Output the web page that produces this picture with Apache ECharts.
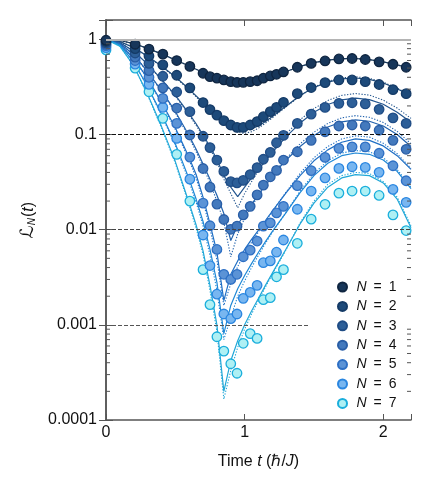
<!DOCTYPE html>
<html><head><meta charset="utf-8">
<script src="https://cdn.jsdelivr.net/npm/echarts@6/dist/echarts.min.js"></script>
<style>html,body{margin:0;padding:0;background:#fff}#c{width:431px;height:493px}</style>
</head><body><div id="c"></div>
<script>
// ---------- data ----------
const seriesNames = ['N = 1','N = 2','N = 3','N = 4','N = 5','N = 6','N = 7'];
// measurement times
const tData = [0, 0.21, 0.31, 0.41, 0.51, 0.605, 0.70, 0.75, 0.80, 0.85, 0.90, 0.945, 0.99, 1.04, 1.09, 1.135, 1.185, 1.23, 1.28, 1.38, 1.48, 1.58, 1.68, 1.775, 1.87, 1.97, 2.07, 2.165];
const dataN1 = [0.98, 0.89, 0.79, 0.70, 0.60, 0.52, 0.441, 0.406, 0.391, 0.375, 0.360, 0.354, 0.354, 0.360, 0.368, 0.391, 0.413, 0.430, 0.455, 0.51, 0.56, 0.594, 0.623, 0.63, 0.615, 0.58, 0.548, 0.51];
const dataN2 = [0.95, 0.80, 0.67, 0.54, 0.42, 0.31, 0.217, 0.183, 0.160, 0.140, 0.126, 0.119, 0.119, 0.126, 0.137, 0.154, 0.174, 0.193, 0.218, 0.269, 0.312, 0.351, 0.375, 0.375, 0.36, 0.336, 0.297, 0.269];
const dataN3 = [0.92, 0.72, 0.56, 0.41, 0.28, 0.174, 0.096, 0.073, 0.054, 0.041, 0.032, 0.031, 0.033, 0.038, 0.045, 0.055, 0.065, 0.082, 0.098, 0.131, 0.164, 0.193, 0.213, 0.216, 0.210, 0.184, 0.150, 0.131];
const dataN4 = [0.89, 0.65, 0.47, 0.31, 0.19, 0.099, 0.044, 0.028, 0.0186, 0.0128, 0.0101, 0.0109, 0.0143, 0.0176, 0.0232, 0.0294, 0.036, 0.042, 0.054, 0.066, 0.087, 0.107, 0.123, 0.126, 0.123, 0.111, 0.087, 0.07];
const dataN5 = [0.86, 0.60, 0.40, 0.24, 0.131, 0.058, 0.019, 0.011, 0.0062, 0.0034, 0.0030, 0.0034, 0.0052, 0.0061, 0.0076, 0.0109, 0.0118, 0.0150, 0.0176, 0.029, 0.0418, 0.0575, 0.0716, 0.0743, 0.0743, 0.0636, 0.047, 0.0327];
const dataN6 = [0.82, 0.55, 0.337, 0.193, 0.091, 0.034, 0.0088, 0.0042, 0.0021, 0.0013, 0.00116, 0.0013, 0.0019, 0.0022, 0.0026, 0.0045, 0.0047, 0.0058, 0.0078, 0.0164, 0.0255, 0.035, 0.0441, 0.0459, 0.0452, 0.0401, 0.0265, 0.0194];
const dataN7 = [0.775, 0.50, 0.282, 0.148, 0.062, 0.020, 0.0038, 0.00163, 0.00075, 0.00053, 0.00039, 0.00031, 0.00064, 0.00081, 0.00072, 0.00184, 0.00193, 0.0032, 0.0038, 0.0072, 0.0129, 0.0185, 0.0242, 0.0255, 0.0255, 0.0229, 0.0143, 0.0098];

// theory curve times
const tTheory = [0, 0.1, 0.2, 0.3, 0.4, 0.5, 0.6, 0.65, 0.7, 0.75, 0.8, 0.85, 0.9, 0.95, 1.0, 1.05, 1.1, 1.15, 1.2, 1.25, 1.3, 1.4, 1.5, 1.6, 1.7, 1.8, 1.9, 2.0, 2.1, 2.2];
const solidN1 = [1, 0.975, 0.905, 0.805, 0.705, 0.61, 0.525, 0.485, 0.45, 0.418, 0.392, 0.374, 0.362, 0.355, 0.354, 0.36, 0.371, 0.387, 0.407, 0.43, 0.46, 0.52, 0.57, 0.605, 0.627, 0.63, 0.613, 0.58, 0.54, 0.495];
const solidN2 = [1, 0.95, 0.82, 0.665, 0.525, 0.405, 0.30, 0.255, 0.217, 0.186, 0.161, 0.142, 0.126, 0.116, 0.112, 0.115, 0.123, 0.137, 0.155, 0.176, 0.20, 0.258, 0.312, 0.356, 0.385, 0.393, 0.38, 0.348, 0.303, 0.256];
const solidN3 = [1, 0.93, 0.75, 0.55, 0.38, 0.26, 0.165, 0.13, 0.099, 0.075, 0.055, 0.037, 0.028, 0.0223, 0.028, 0.035, 0.043, 0.053, 0.065, 0.079, 0.095, 0.132, 0.172, 0.207, 0.232, 0.242, 0.233, 0.208, 0.172, 0.135];
const solidN4 = [1, 0.91, 0.69, 0.46, 0.29, 0.175, 0.097, 0.07, 0.049, 0.034, 0.023, 0.0148, 0.0077, 0.0112, 0.0148, 0.0185, 0.0235, 0.0295, 0.0365, 0.045, 0.054, 0.075, 0.098, 0.12, 0.136, 0.143, 0.138, 0.123, 0.1, 0.075];
const solidN5 = [1, 0.89, 0.63, 0.39, 0.22, 0.118, 0.057, 0.038, 0.022, 0.0115, 0.0058, 0.0018, 0.0034, 0.0047, 0.0062, 0.0079, 0.0099, 0.0125, 0.0157, 0.0196, 0.0245, 0.037, 0.053, 0.069, 0.083, 0.09, 0.087, 0.076, 0.06, 0.043];
const solidN6 = [1, 0.87, 0.58, 0.32, 0.165, 0.08, 0.034, 0.021, 0.0122, 0.0062, 0.0028, 0.00081, 0.0016, 0.0024, 0.0033, 0.0044, 0.0058, 0.0075, 0.0096, 0.0121, 0.0152, 0.0245, 0.037, 0.05, 0.06, 0.064, 0.062, 0.054, 0.041, 0.027];
const solidN7 = [1, 0.85, 0.53, 0.265, 0.122, 0.052, 0.019, 0.0112, 0.006, 0.0026, 0.001, 0.0002, 0.00042, 0.00068, 0.001, 0.0014, 0.0019, 0.0026, 0.0035, 0.0047, 0.0063, 0.0115, 0.019, 0.028, 0.035, 0.038, 0.037, 0.031, 0.021, 0.0105];
const dottedN1 = [1, 0.975, 0.905, 0.805, 0.705, 0.61, 0.525, 0.485, 0.45, 0.418, 0.392, 0.374, 0.362, 0.355, 0.354, 0.36, 0.371, 0.387, 0.407, 0.43, 0.46, 0.52, 0.57, 0.605, 0.627, 0.63, 0.613, 0.58, 0.54, 0.495];
const dottedN2 = [1, 0.95, 0.82, 0.665, 0.52, 0.40, 0.295, 0.25, 0.21, 0.178, 0.152, 0.132, 0.116, 0.106, 0.103, 0.107, 0.117, 0.132, 0.15, 0.172, 0.196, 0.255, 0.315, 0.363, 0.395, 0.405, 0.39, 0.355, 0.307, 0.258];
const dottedN3 = [1, 0.93, 0.75, 0.55, 0.375, 0.255, 0.16, 0.125, 0.095, 0.071, 0.052, 0.034, 0.024, 0.017, 0.024, 0.032, 0.042, 0.054, 0.068, 0.084, 0.102, 0.143, 0.188, 0.228, 0.258, 0.27, 0.26, 0.23, 0.19, 0.148];
const dottedN4 = [1, 0.91, 0.69, 0.455, 0.285, 0.17, 0.093, 0.066, 0.046, 0.031, 0.02, 0.012, 0.0052, 0.009, 0.0132, 0.0175, 0.0228, 0.029, 0.037, 0.046, 0.056, 0.08, 0.106, 0.131, 0.15, 0.158, 0.152, 0.134, 0.108, 0.08];
const dottedN5 = [1, 0.89, 0.63, 0.385, 0.215, 0.113, 0.054, 0.035, 0.02, 0.0103, 0.0048, 0.0016, 0.0027, 0.0041, 0.0056, 0.0074, 0.0095, 0.0122, 0.0156, 0.0198, 0.025, 0.039, 0.057, 0.075, 0.09, 0.097, 0.094, 0.081, 0.063, 0.044];
const dottedN6 = [1, 0.87, 0.58, 0.315, 0.16, 0.077, 0.032, 0.0195, 0.011, 0.0054, 0.0023, 0.0007, 0.0012, 0.002, 0.0029, 0.004, 0.0054, 0.0072, 0.0094, 0.012, 0.0153, 0.0255, 0.039, 0.053, 0.064, 0.068, 0.066, 0.057, 0.043, 0.028];
const dottedN7 = [1, 0.85, 0.53, 0.26, 0.118, 0.05, 0.018, 0.0104, 0.0055, 0.0023, 0.00085, 0.000166, 0.00033, 0.00058, 0.0009, 0.0013, 0.0018, 0.0025, 0.0034, 0.0046, 0.0062, 0.0118, 0.02, 0.03, 0.037, 0.04, 0.039, 0.032, 0.022, 0.011];

// axes
const xTickLabels = ['0', '1', '2'];
const yTickValues = [0.0001, 0.001, 0.01, 0.1, 1];
const yTickLabels = ['0.0001', '0.001', '0.01', '0.1', '1'];
const yMinorTicks = [0.0002,0.0003,0.0004,0.0005,0.0006,0.0007,0.0008,0.0009,
  0.002,0.003,0.004,0.005,0.006,0.007,0.008,0.009,
  0.02,0.03,0.04,0.05,0.06,0.07,0.08,0.09,
  0.2,0.3,0.4,0.5,0.6,0.7,0.8,0.9];
// reference lines: value and end time
const refValues = [1, 0.1, 0.01, 0.001];
const refEnds = [2.2, 2.2, 2.2, 1.47];

// ---------- styles ----------
const X_MIN = 0, X_MAX = 2.2, Y_MIN = 0.0001, Y_MAX = 1.6;
const FONT = "'Liberation Sans', Arial, Helvetica, sans-serif";
const fillColors = ['#17365a', '#1d4a7a', '#2d5f98', '#4379bd', '#5b93d6', '#78b6f0', '#aef0f4'];
const borderColors = ['#0f2540', '#143a66', '#1f4c85', '#2a5ea6', '#2d6fc4', '#2a86e0', '#1aaedc'];
const lineColors = ['#1a3a5c', '#1d4a7a', '#24568f', '#2262ad', '#1f6fc5', '#1f88d6', '#22a8d8'];
const refStyles = [
  {color: '#b4b4b4', width: 2, type: 'solid'},
  {color: '#111', width: 1, type: [4, 2]},
  {color: '#444', width: 1, type: [4, 2]},
  {color: '#555', width: 1, type: [4, 2]}
];

const dataSets = [dataN1, dataN2, dataN3, dataN4, dataN5, dataN6, dataN7];
const solids = [solidN1, solidN2, solidN3, solidN4, solidN5, solidN6, solidN7];
const dotteds = [dottedN1, dottedN2, dottedN3, dottedN4, dottedN5, dottedN6, dottedN7];

const series = [];
// reference lines holder
series.push({
  type: 'line', data: [], silent: true, z: 1,
  markLine: {
    silent: true, symbol: ['none', 'none'], label: {show: false}, animation: false,
    data: refValues.map((v, i) => [
      {coord: [X_MIN, v], lineStyle: refStyles[i]},
      {coord: [refEnds[i], v]}
    ])
  }
});
// minor ticks on left and right y axes
series.push({
  type: 'custom', silent: true, z: 5, clip: false,
  data: yMinorTicks.map(v => [X_MIN, v]),
  renderItem: function (params, api) {
    const v = api.value(1);
    const l = api.coord([X_MIN, v]);
    const r = api.coord([X_MAX, v]);
    return {type: 'group', children: [
      {type: 'line', shape: {x1: l[0], y1: l[1], x2: l[0] + 4, y2: l[1]}, style: {stroke: '#555', lineWidth: 1}},
      {type: 'line', shape: {x1: r[0], y1: r[1], x2: r[0] - 4, y2: r[1]}, style: {stroke: '#555', lineWidth: 1}}
    ]};
  }
});
for (let i = 0; i < 7; i++) {
  series.push({
    type: 'line', name: 'theory' + i, silent: true, symbol: 'none', z: 2,
    data: tTheory.map((t, k) => [t, dotteds[i][k]]),
    lineStyle: {color: lineColors[i], width: 1.1, type: [1.3, 1.6]}
  });
  series.push({
    type: 'line', name: 'theorys' + i, silent: true, symbol: 'none', z: 2,
    data: tTheory.map((t, k) => [t, solids[i][k]]),
    lineStyle: {color: lineColors[i], width: 1.2}
  });
}
for (let i = 6; i >= 0; i--) {
  series.push({
    type: 'scatter', name: seriesNames[i], symbol: 'circle', symbolSize: 9.5, z: 4,
    data: tData.map((t, k) => [t, dataSets[i][k]]),
    itemStyle: {color: fillColors[i], borderColor: borderColors[i], borderWidth: 1.3, opacity: 1}
  });
}

const axisLineStyle = {color: '#555', width: 1.5};
const option = {
  animation: false,
  backgroundColor: '#fff',
  grid: {left: 106, right: 20, top: 20, bottom: 73, containLabel: false},
  legend: {
    data: seriesNames,
    orient: 'vertical', left: 332, top: 274,
    itemWidth: 18, itemHeight: 9, itemGap: 3.4, icon: 'circle',
    selectedMode: false,
    formatter: name => '{i|N}\u2002=\u2002' + name.slice(4),
    textStyle: {fontFamily: FONT, fontSize: 14, color: '#111', lineHeight: 16,
      rich: {i: {fontFamily: FONT, fontSize: 14, fontStyle: 'italic', color: '#111'}}}
  },
  xAxis: [
    {type: 'value', min: X_MIN, max: X_MAX, interval: 1, position: 'bottom',
     axisLine: {show: true, lineStyle: axisLineStyle},
     axisTick: {show: true, inside: true, length: 6, lineStyle: {color: '#555', width: 1}},
     splitLine: {show: false},
     axisLabel: {margin: 5, fontFamily: FONT, fontSize: 16, color: '#111',
       formatter: v => { const k = Math.round(v); return Math.abs(v - k) < 1e-9 && xTickLabels[k] !== undefined ? xTickLabels[k] : ''; }},
     name: '{r|Time }{i|t}{r| (\u210F/}{i|J}{r|)}',
     nameLocation: 'middle', nameGap: 34,
     nameTextStyle: {fontFamily: FONT, fontSize: 16, color: '#111',
       rich: {r: {fontFamily: FONT, fontSize: 16, color: '#111'}, i: {fontFamily: FONT, fontSize: 16, fontStyle: 'italic', color: '#111'}}}
    },
    {type: 'value', min: X_MIN, max: X_MAX, interval: 1, position: 'top',
     axisLine: {show: true, lineStyle: axisLineStyle},
     axisTick: {show: true, inside: true, length: 6, lineStyle: {color: '#555', width: 1}},
     splitLine: {show: false}, axisLabel: {show: false}}
  ],
  yAxis: [
    {type: 'log', logBase: 10, min: Y_MIN, max: Y_MAX, position: 'left',
     axisLine: {show: true, lineStyle: axisLineStyle},
     axisTick: {show: true, inside: true, length: 7, lineStyle: {color: '#555', width: 1}},
     splitLine: {show: false}, minorTick: {show: false},
     axisLabel: {margin: 9, fontFamily: FONT, fontSize: 16, color: '#111',
       formatter: v => { const k = yTickValues.findIndex(x => Math.abs(Math.log10(x) - Math.log10(v)) < 1e-6); return k >= 0 ? yTickLabels[k] : ''; }},
     name: '{l|\u2112}{s|N}{r|(}{i|t}{r|)}',
     nameLocation: 'middle', nameGap: 66, nameRotate: 90,
     nameTextStyle: {fontFamily: FONT, fontSize: 16, color: '#111',
       rich: {
         l: {fontFamily: "'DejaVu Sans', " + FONT, fontSize: 18, fontStyle: 'italic', color: '#111'},
         s: {fontFamily: FONT, fontSize: 10, fontStyle: 'italic', color: '#111', padding: [8, 1, 0, 0]},
         r: {fontFamily: FONT, fontSize: 16, color: '#111'},
         i: {fontFamily: FONT, fontSize: 16, fontStyle: 'italic', color: '#111'}
       }}
    },
    {type: 'log', logBase: 10, min: Y_MIN, max: Y_MAX, position: 'right',
     axisLine: {show: true, lineStyle: axisLineStyle},
     axisTick: {show: true, inside: true, length: 7, lineStyle: {color: '#555', width: 1}},
     splitLine: {show: false}, axisLabel: {show: false}}
  ],
  series: series
};
const chart = echarts.init(document.getElementById('c'), null, {renderer: 'canvas'});
chart.setOption(option);
</script>
</body></html>
